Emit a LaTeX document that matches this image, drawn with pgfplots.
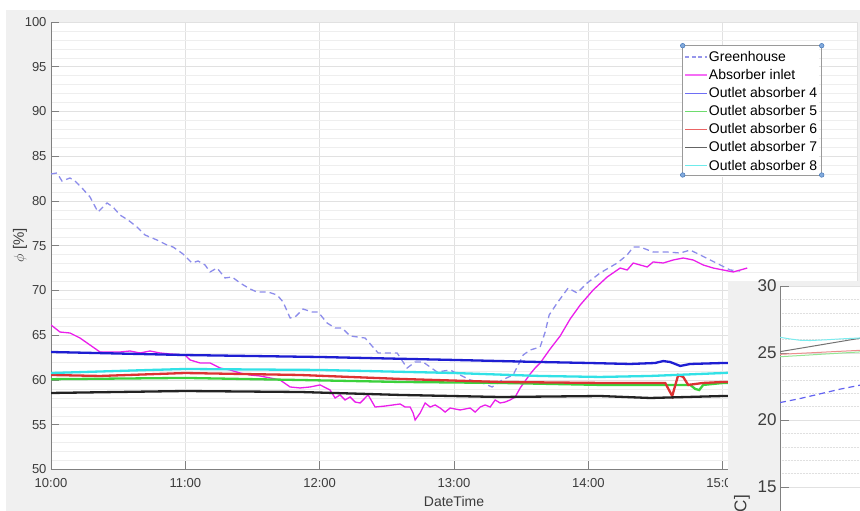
\documentclass[border=0pt]{standalone}
\usepackage{pgfplots}
\pgfplotsset{compat=1.18}
\usepackage{fontspec}
\setmainfont{Liberation Sans}
\definecolor{figbg}{RGB}{240,240,240}
\definecolor{axisgray}{RGB}{128,128,128}
\definecolor{ticktext}{RGB}{60,60,60}
\definecolor{gridmaj}{RGB}{225,225,225}
\definecolor{gridmin}{RGB}{238,238,238}
\definecolor{ghC}{RGB}{140,140,235}
\definecolor{magC}{RGB}{235,30,235}
\definecolor{blueC}{RGB}{30,30,210}
\definecolor{greenC}{RGB}{60,210,60}
\definecolor{redC}{RGB}{220,50,50}
\definecolor{blackC}{RGB}{35,35,35}
\definecolor{cyanC}{RGB}{50,225,230}
\definecolor{lgGh}{RGB}{150,150,235}
\definecolor{lgMag}{RGB}{245,110,245}
\definecolor{lgBlue}{RGB}{110,110,245}
\definecolor{lgGreen}{RGB}{110,220,110}
\definecolor{lgRed}{RGB}{235,100,100}
\definecolor{lgBlack}{RGB}{100,100,100}
\definecolor{lgCyan}{RGB}{110,235,235}

\pgfplotstableread{
m v
0 83.02
2.68 83.13
4.91 82.23
8.49 82.57
10.72 82.23
13.85 81.45
17.42 80.45
20.99 78.77
25.02 79.78
27.70 79.33
30.83 78.43
34.40 77.88
38.42 77.09
42.00 76.20
47.36 75.64
51.83 75.08
54.51 74.86
58.98 74.08
63.00 73.07
65.68 73.30
68.81 72.85
71.04 72.07
74.17 72.51
77.74 71.40
80.87 71.51
84.45 70.84
88.92 70.17
92.04 69.83
96.96 69.83
100.98 69.50
103.66 68.72
106.79 66.93
109.02 67.04
112.60 67.93
116.61 67.60
119.30 67.60
123.32 66.37
126.89 65.81
130.02 65.81
133.59 64.92
140.29 64.69
146.10 63.02
150.12 63.02
154.59 63.02
159.05 61.34
162.63 62.01
166.20 62.01
172.46 60.89
178.26 61.12
182.73 60.56
187.20 60.00
192.56 59.67
197.03 59.22
201.50 60.00
206.42 60.56
210.88 62.79
214.01 63.35
218.48 63.69
220.71 65.36
222.50 67.26
226.07 68.60
230.99 70.28
235.01 69.72
239.48 70.84
245.29 71.96
252.89 73.07
257.36 73.97
260.04 74.86
263.16 74.86
268.97 74.30
275.23 74.30
281.03 74.19
285.50 74.52
289.97 73.97
294.44 73.41
298.91 72.85
303.38 72.29
307.84 72.18
}\greenhouse

\pgfplotstableread{
m v
0 66.15
4.02 65.36
8.49 65.25
12.96 64.69
17.42 63.91
21.89 63.13
26.36 63.13
30.83 63.13
35.30 63.24
39.77 63.02
44.23 63.24
48.70 63.02
53.17 62.91
59.87 62.79
62.11 62.24
66.58 61.90
71.04 61.90
75.51 61.34
79.98 61.12
84.45 60.78
88.92 60.56
93.38 60.45
97.85 60.23
102.32 60.00
106.79 59.22
111.25 59.11
115.72 59.22
120.19 59.45
124.66 58.88
126.89 57.99
129.13 58.33
131.36 57.77
133.59 58.10
135.83 57.54
138.06 57.43
141.64 58.33
144.76 56.98
149.23 57.09
155.93 57.32
158.17 56.98
160.40 56.98
161.74 56.31
162.63 55.53
164.87 56.31
167.10 57.43
169.34 56.98
171.57 57.21
173.81 56.87
176.04 56.42
178.27 56.87
182.74 56.65
187.21 56.87
189.44 56.42
191.68 56.98
193.91 57.21
196.15 56.98
198.38 57.77
200.61 57.43
202.85 57.54
205.08 57.77
207.32 58.10
209.55 59.11
211.78 59.89
214.02 60.67
216.25 61.34
218.49 61.90
222.95 63.47
227.42 64.92
231.89 66.82
236.36 68.38
242.17 70.06
248.42 71.51
254.23 72.51
257.36 72.29
260.04 73.07
266.29 72.63
268.97 73.19
273.44 73.07
277.91 73.41
282.38 73.63
286.84 73.41
291.31 72.85
295.78 72.51
300.25 72.29
304.72 72.07
307.85 72.29
310.97 72.51
}\inlet

\pgfplotstableread{
m v
0 63.13
59.87 62.79
120.19 62.57
180.06 62.24
218.49 62.01
240.37 61.90
258.70 61.79
269.87 61.90
273.44 62.12
276.57 62.01
281.03 61.57
285.50 61.79
300.25 61.90
310.08 61.90
}\outfour

\pgfplotstableread{
m v
0 60.09
59.87 60.23
111.25 60.00
155.93 59.78
200.61 59.67
245.29 59.45
285.50 59.45
287.74 59.00
289.53 58.88
291.31 59.45
300.25 59.67
310.08 59.67
}\outfive

\pgfplotstableread{
m v
0 60.56
21.89 60.45
59.87 60.78
111.25 60.56
155.93 60.12
200.61 59.78
245.29 59.67
274.33 59.67
277.46 58.21
280.15 60.56
282.38 60.34
284.61 59.45
291.31 59.67
300.25 59.78
310.08 59.78
}\outsix

\pgfplotstableread{
m v
0 58.55
59.87 58.77
111.25 58.66
155.93 58.33
200.61 58.10
245.29 58.21
267.63 57.99
300.25 58.21
310.08 58.21
}\outseven

\pgfplotstableread{
m v
0 60.78
44.23 61.12
59.87 61.23
120.19 61.12
180.06 60.78
218.49 60.45
245.29 60.34
267.63 60.45
300.25 60.78
310.08 60.89
}\outeight

\begin{document}
\begin{tikzpicture}[x=1pt,y=1pt]
\useasboundingbox (0,0) rectangle (860,511);
\clip (0,0) rectangle (860,511);
\fill[white] (0,0) rectangle (860,511);
\fill[figbg] (6,0) rectangle (860,501);
\begin{axis}[
  at={(51pt,41.5pt)}, anchor=south west,
  width=806pt, height=447.5pt, scale only axis,
  xmin=0, xmax=360, ymin=50, ymax=100,
  axis background/.style={fill=white},
  axis x line*=bottom, axis y line*=left,
  axis line style={draw=axisgray, line width=0.6pt},
  tick align=inside, major tick length=8pt, minor tick length=0pt,
  tick style={draw=axisgray, line width=0.6pt},
  xtick={0,60,...,360},
  xticklabels={10:00,11:00,12:00,13:00,14:00,15:00,16:00},
  ytick={50,55,...,100},
  minor y tick num=4,
  grid=both,
  major grid style={draw=gridmaj, line width=0.5pt},
  minor grid style={draw=gridmin, line width=0.5pt},
  /pgf/number format/assume math mode=true,
  ticklabel style={font=\fontsize{13}{15}\selectfont, text=ticktext},
  xticklabel style={yshift=-5pt},
  yticklabel style={xshift=-1pt},
  xlabel={DateTime},
  xlabel style={at={(axis description cs:0.5,-0.0704)}, anchor=center, font=\fontsize{14}{16}\selectfont, text=ticktext},
  ylabel={$\phi$ [\%]},
  ylabel style={at={(axis description cs:-0.0385,0.5017)}, anchor=center, font=\fontsize{15}{17}\selectfont, text=ticktext},
  legend cell align=left,
  legend style={at={(axis description cs:0.7837,0.9470)}, anchor=north west,
    draw=none, fill=white,
    font=\fontsize{14}{16}\selectfont,
    inner xsep=1.8pt, inner ysep=2pt, row sep=0pt, column sep=0.5pt,
    nodes={inner xsep=0.5pt, inner ysep=0pt, text height=13.5pt, text depth=4.6pt, anchor=west}},
]
\addplot[ghC, line width=1.3pt, dash pattern=on 6pt off 4pt, forget plot] table[x=m,y=v] {\greenhouse};
\addplot[magC, line width=1.3pt, forget plot] table[x=m,y=v] {\inlet};
\addplot[blueC, line width=2.3pt, forget plot] table[x=m,y=v] {\outfour};
\addplot[greenC, line width=2.3pt, forget plot] table[x=m,y=v] {\outfive};
\addplot[redC, line width=2.3pt, forget plot] table[x=m,y=v] {\outsix};
\addplot[blackC, line width=2.3pt, forget plot] table[x=m,y=v] {\outseven};
\addplot[cyanC, line width=2.3pt, forget plot] table[x=m,y=v] {\outeight};
\addlegendimage{legend image code/.code={\draw[draw=lgGh, line width=1.3pt, dash pattern=on 4pt off 2.5pt] (0pt,0pt) -- (22pt,0pt);}}
\addlegendentry{Greenhouse}
\addlegendimage{legend image code/.code={\draw[draw=lgMag, line width=1.3pt] (0pt,0pt) -- (22pt,0pt);}}
\addlegendentry{Absorber inlet}
\addlegendimage{legend image code/.code={\draw[draw=lgBlue, line width=1.3pt] (0pt,0pt) -- (22pt,0pt);}}
\addlegendentry{Outlet absorber 4}
\addlegendimage{legend image code/.code={\draw[draw=lgGreen, line width=1.3pt] (0pt,0pt) -- (22pt,0pt);}}
\addlegendentry{Outlet absorber 5}
\addlegendimage{legend image code/.code={\draw[draw=lgRed, line width=1.3pt] (0pt,0pt) -- (22pt,0pt);}}
\addlegendentry{Outlet absorber 6}
\addlegendimage{legend image code/.code={\draw[draw=lgBlack, line width=1.3pt] (0pt,0pt) -- (22pt,0pt);}}
\addlegendentry{Outlet absorber 7}
\addlegendimage{legend image code/.code={\draw[draw=lgCyan, line width=1.3pt] (0pt,0pt) -- (22pt,0pt);}}
\addlegendentry{Outlet absorber 8}
\end{axis}
% legend frame and selection handles
\draw[axisgray!80, line width=0.6pt] (682.7,511-45.7) rectangle (821.7,511-175);
\foreach \px/\py in {682.7/45.7, 821.7/45.7, 682.7/175, 821.7/175}
  \filldraw[fill={rgb,255:red,130;green,170;blue,220}, draw={rgb,255:red,70;green,120;blue,185}, line width=0.5pt] (\px,511-\py) circle (2.3);
% overlapping second figure
\fill[figbg] (728,0) rectangle (860,230);
\begin{axis}[
  at={(780pt,225pt)}, anchor=north west,
  width=100pt, height=241.2pt, scale only axis,
  xmin=0, xmax=100, ymin=12, ymax=30,
  axis background/.style={fill=white},
  axis x line=none, axis y line*=left,
  axis line style={draw=axisgray, line width=0.6pt},
  tick align=inside, major tick length=9pt, minor tick length=0pt,
  tick style={draw=axisgray, line width=0.6pt},
  ytick={15,20,25,30},
  minor y tick num=4,
  ymajorgrids, yminorgrids,
  major grid style={draw=gridmaj, line width=0.5pt},
  minor grid style={draw=black!12, line width=0.5pt, densely dotted},
  /pgf/number format/assume math mode=true,
  yticklabel style={font=\fontsize{17}{19}\selectfont, text=ticktext},
  ylabel={T [\textdegree C]},
  ylabel style={at={(axis description cs:-0.38,0.1335)}, anchor=east, inner sep=0pt, font=\fontsize{17}{19}\selectfont, text=ticktext},
]
\addplot[ghC!70!blue, line width=1.2pt, dash pattern=on 6pt off 4pt] coordinates {(0,21.3) (20,21.6) (40,21.95) (60,22.3) (80,22.6) (100,22.9)};
\addplot[greenC!55, line width=1pt] coordinates {(0,24.72) (40,24.9) (80,25.08) (100,25.17)};
\addplot[redC!55, line width=1pt] coordinates {(0,24.9) (40,25.05) (80,25.2) (100,25.28)};
\addplot[black!55, line width=1pt] coordinates {(0,25.1) (40,25.6) (80,26.1) (100,26.35)};
\addplot[cyanC!65, line width=1pt] coordinates {(0,26.17) (10,26.05) (20,25.95) (30,25.93) (45,25.98) (60,26.05) (80,26.12) (100,26.2)};
\end{axis}
\end{tikzpicture}
\end{document}
